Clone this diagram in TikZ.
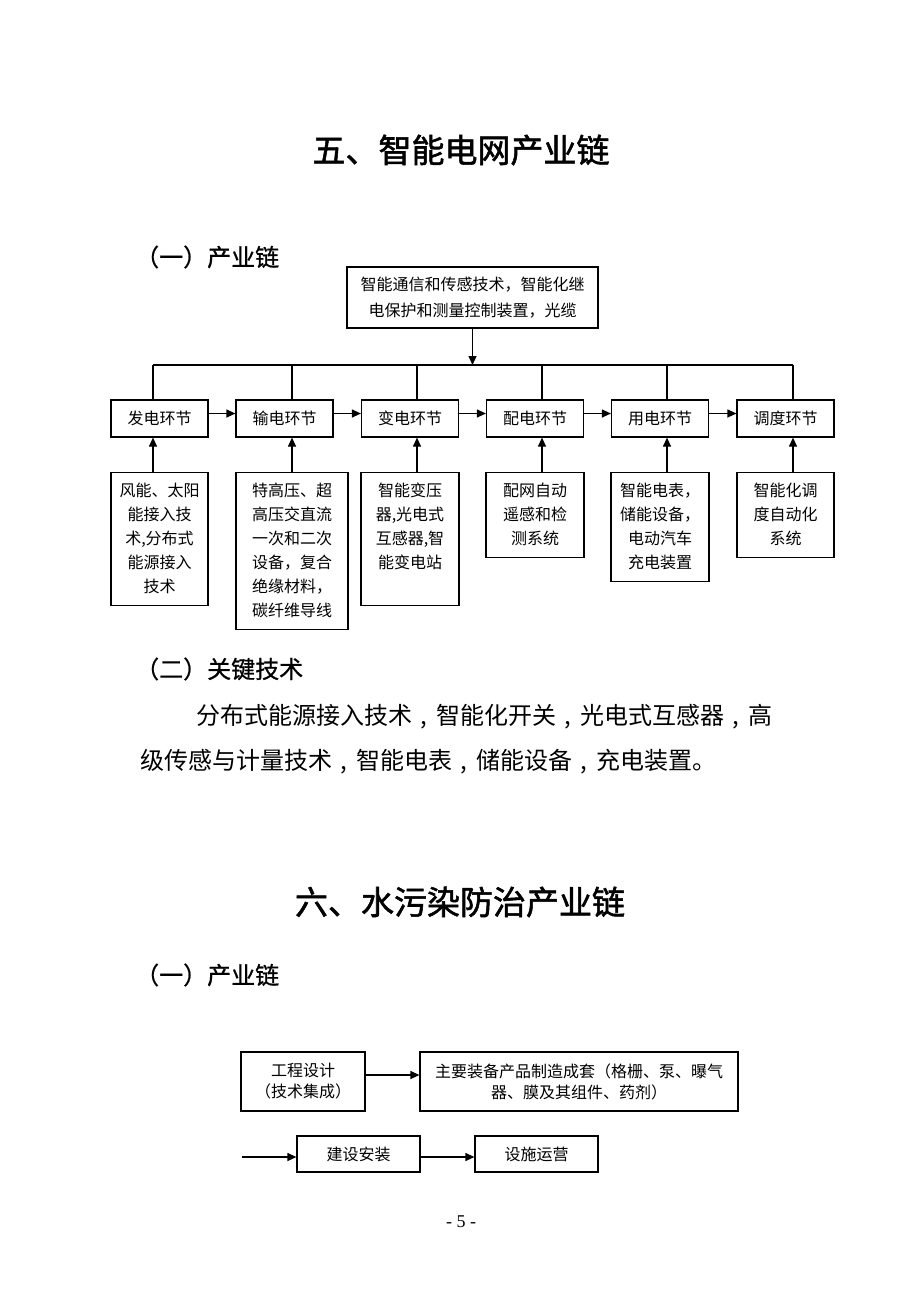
\documentclass[tikz,border=0pt]{standalone}
\usepackage{fontspec}
\setmainfont{Liberation Serif}
\newfontfamily\cjk{Noto Sans CJK SC}
\newfontfamily\cjktitle{Noto Sans CJK SC}[FakeBold=1.6]
\newfontfamily\cjkhead{Noto Sans CJK SC}[FakeBold=0.8]
\usetikzlibrary{arrows.meta}
\begin{document}
\begin{tikzpicture}[x=1pt,y=-1pt,
  line/.style={line width=1.2pt},
  arr/.style={line width=1.2pt,-{Triangle[length=9pt,width=8pt]}},
  box/.style={draw,line width=1.2pt,inner sep=0pt,align=center,font=\cjk\fontsize{16}{21}\selectfont},
  rowbox/.style={box,minimum width=97pt,minimum height=37pt},
  techbox/.style={draw,line width=1.2pt,inner sep=0pt,anchor=north},
  techtext/.style={inner sep=0pt,anchor=north,align=center,font=\cjk\fontsize{16}{24}\selectfont},
  titletext/.style={inner sep=0pt,font=\cjktitle\fontsize{33}{33}\selectfont},
  headtext/.style={inner sep=0pt,anchor=west,font=\cjkhead\fontsize{24}{24}\selectfont},
  paratext/.style={inner sep=0pt,anchor=west,font=\cjk\fontsize{24}{24}\selectfont}
]
\useasboundingbox (0,0) rectangle (920,1302);
\fill[white] (0,0) rectangle (920,1302);

% ---------- Section 5 ----------
\node[titletext] (title1) at (461,150) {五、智能电网产业链};
\node[headtext] (head1) at (135,257) {（一）产业链};

\node[box,minimum width=251pt,minimum height=61pt,font=\cjk\fontsize{16}{26}\selectfont] (top) at (472.5,297.5)
  {智能通信和传感技术，智能化继\\电保护和测量控制装置，光缆};

\coordinate (c1) at (153,365);
\coordinate (c2) at (292,365);
\coordinate (c3) at (417,365);
\coordinate (c4) at (542,365);
\coordinate (c5) at (667,365);
\coordinate (c6) at (793,365);

\draw[arr] (top.south) -- (top.south |- c1);
\draw[line] (c1) -- (c6);

\node[rowbox] (r1) at (159.5,418.5) {发电环节};
\node[rowbox] (r2) at (284.5,418.5) {输电环节};
\node[rowbox] (r3) at (410,418.5) {变电环节};
\node[rowbox] (r4) at (535,418.5) {配电环节};
\node[rowbox] (r5) at (660,418.5) {用电环节};
\node[rowbox] (r6) at (785.5,418.5) {调度环节};

\foreach \i in {1,...,6} \draw[line] (c\i) -- (r\i.north -| c\i);

\draw[arr] ([yshift=5pt]r1.east) -- ([yshift=5pt]r2.west);
\draw[arr] ([yshift=5pt]r2.east) -- ([yshift=5pt]r3.west);
\draw[arr] ([yshift=5pt]r3.east) -- ([yshift=5pt]r4.west);
\draw[arr] ([yshift=5pt]r4.east) -- ([yshift=5pt]r5.west);
\draw[arr] ([yshift=5pt]r5.east) -- ([yshift=5pt]r6.west);

\node[techbox,minimum width=97pt,minimum height=133pt] (t1) at (159.5,472) {};
\node[techbox,minimum width=112pt,minimum height=157pt] (t2) at (292,472) {};
\node[techbox,minimum width=98pt,minimum height=133pt] (t3) at (410,472) {};
\node[techbox,minimum width=98pt,minimum height=85pt] (t4) at (535,472) {};
\node[techbox,minimum width=98pt,minimum height=109pt] (t5) at (660,472) {};
\node[techbox,minimum width=97pt,minimum height=85pt] (t6) at (785.5,472) {};

\node[techtext] (tt1) at ([yshift=-11pt]t1.north) {风能、太阳\\能接入技\\术,分布式\\能源接入\\技术};
\node[techtext] (tt2) at ([yshift=-11pt]t2.north) {特高压、超\\高压交直流\\一次和二次\\设备，复合\\绝缘材料，\\碳纤维导线};
\node[techtext] (tt3) at ([yshift=-11pt]t3.north) {智能变压\\器,光电式\\互感器,智\\能变电站};
\node[techtext] (tt4) at ([yshift=-11pt]t4.north) {配网自动\\遥感和检\\测系统};
\node[techtext] (tt5) at ([yshift=-11pt]t5.north) {智能电表，\\储能设备，\\电动汽车\\充电装置};
\node[techtext] (tt6) at ([yshift=-11pt]t6.north) {智能化调\\度自动化\\系统};

\foreach \i in {1,...,6} \draw[arr] (t\i.north -| c\i) -- (r\i.south -| c\i);

\node[headtext] (head2) at (135,669) {（二）关键技术};
\node[paratext] (p1) at (196,717) {分布式能源接入技术\makebox[24pt]{,}智能化开关\makebox[24pt]{,}光电式互感器\makebox[24pt]{,}高};
\node[paratext] (p2) at (140,762) {级传感与计量技术\makebox[24pt]{,}智能电表\makebox[24pt]{,}储能设备\makebox[24pt]{,}充电装置。};

% ---------- Section 6 ----------
\node[titletext] (title2) at (460,902) {六、水污染防治产业链};
\node[headtext] (head3) at (135,975) {（一）产业链};

\node[box,minimum width=124pt,minimum height=59pt] (b1) at (303,1081.5) {工程设计\\（技术集成）};
\node[box,minimum width=318pt,minimum height=59pt] (b2) at (579,1081.5) {主要装备产品制造成套（格栅、泵、曝气\\器、膜及其组件、药剂）};
\node[box,minimum width=123pt,minimum height=36pt] (b3) at (358.5,1154) {建设安装};
\node[box,minimum width=123pt,minimum height=36pt] (b4) at (536.5,1154) {设施运营};

\draw[arr] ([yshift=6.5pt]b1.east) -- ([yshift=6.5pt]b2.west);
\coordinate (in) at (242,1157);
\draw[arr] (in) -- (b3.west |- in);
\draw[arr] ([yshift=-3pt]b3.east) -- ([yshift=-3pt]b4.west);

\node[inner sep=0pt,font=\fontsize{18}{18}\selectfont] (page) at (461,1222) {- 5 -};
\end{tikzpicture}
\end{document}
